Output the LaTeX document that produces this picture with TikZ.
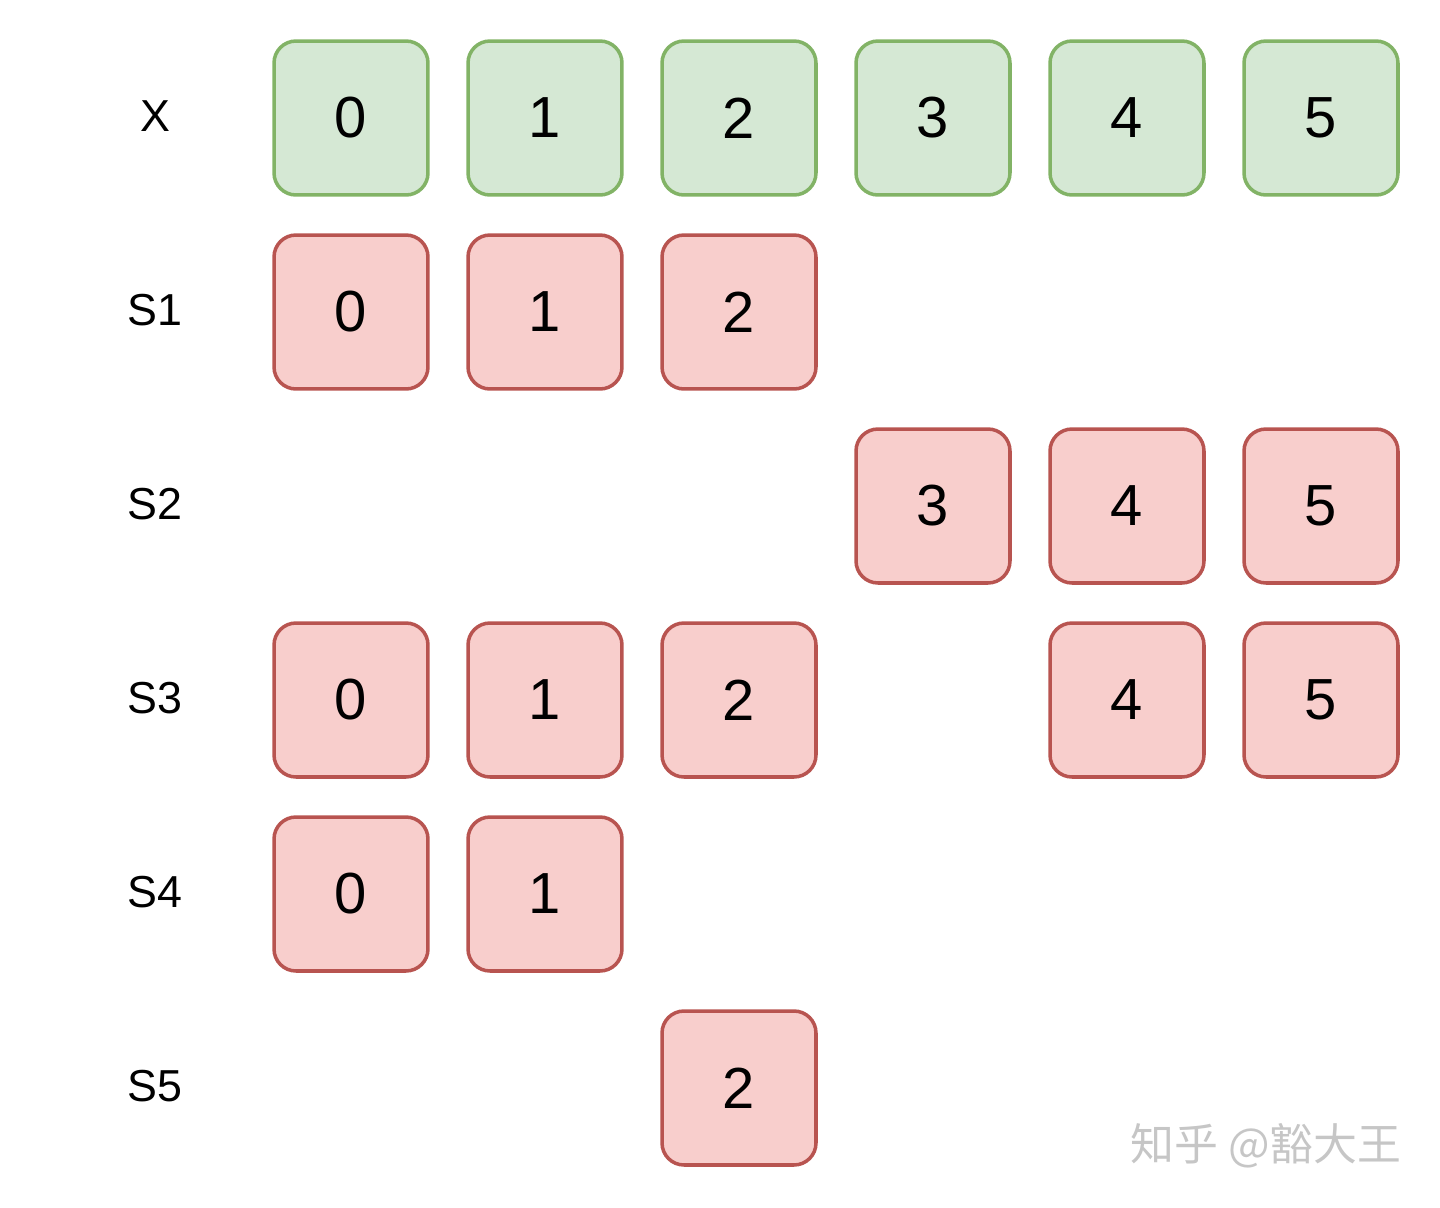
\documentclass[tikz,border=0pt]{standalone}
\usepackage{fontspec}
\setmainfont{Liberation Sans}
\newfontfamily\cjk{Noto Sans CJK SC}
\definecolor{verdefundo}{HTML}{D5E8D4}
\definecolor{verdeborda}{HTML}{82B366}
\definecolor{vermelhofundo}{HTML}{F8CECC}
\definecolor{vermelhoborda}{HTML}{B85450}

\begin{document}
\begin{tikzpicture}[
    % Unidades em pixels da imagem original
    x=0.02cm, y=-0.02cm,
    % Estilo base das caixas
    caixa/.style={rectangle, rounded corners=0.44cm, line width=2pt,
      minimum size=3.08cm, inner sep=0pt, font=\fontsize{33}{33}\selectfont},
    % Caixas do vetor X e dos subconjuntos
    verde/.style={caixa, draw=verdeborda, fill=verdefundo},
    vermelha/.style={caixa, draw=vermelhoborda, fill=vermelhofundo},
    % Rótulos das linhas
    rotulo/.style={font=\fontsize{25.5}{25.5}\selectfont}
  ]

  \useasboundingbox (0,0) rectangle (1440,1207);

  % Rótulos à esquerda
  \node[rotulo] (lx) at (155,116) {X};
  \node[rotulo] (ls1) at (155,310) {S1};
  \node[rotulo] (ls2) at (155,504) {S2};
  \node[rotulo] (ls3) at (155,698) {S3};
  \node[rotulo] (ls4) at (155,892) {S4};
  \node[rotulo] (ls5) at (155,1086) {S5};

  % Vetor X completo
  \foreach \i in {0,...,5}
    \node[verde] (x\i) at (351+194*\i,118) {\i};

  % S1
  \foreach \i in {0,1,2}
    \node[vermelha] (sa\i) at (351+194*\i,312) {\i};

  % S2
  \foreach \i in {3,4,5}
    \node[vermelha] (sb\i) at (351+194*\i,506) {\i};

  % S3 (sem o 3)
  \foreach \i in {0,1,2,4,5}
    \node[vermelha] (sc\i) at (351+194*\i,700) {\i};

  % S4
  \foreach \i in {0,1}
    \node[vermelha] (sd\i) at (351+194*\i,894) {\i};

  % S5
  \node[vermelha] (se2) at (739,1088) {2};

  % Marca d'água
  \node[text=gray!45, font=\cjk\fontsize{25}{25}\selectfont] (marca) at (1266,1146) {知乎 @豁大王};

\end{tikzpicture}
\end{document}
